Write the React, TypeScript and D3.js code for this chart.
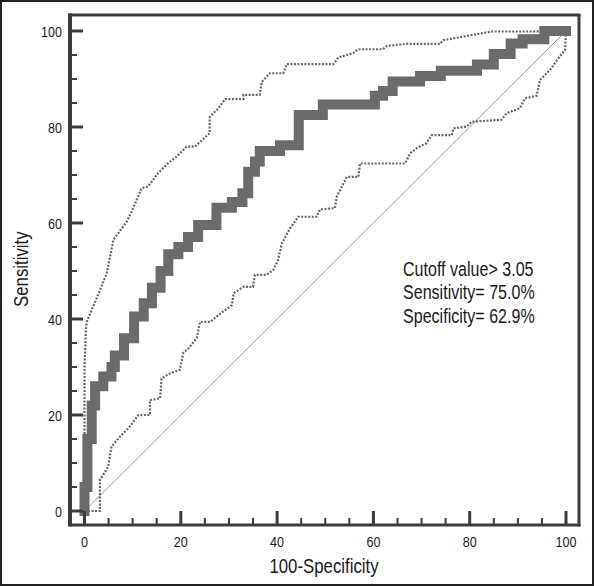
import React from "react";
import * as d3 from "d3";

// ROC curve (stepped) — 100-Specificity vs Sensitivity
const rocFpr = [0, 0, 0.6, 0.6, 1.5, 1.5, 2.2, 2.2, 3.9, 3.9, 5.6, 5.6, 6.3, 6.3, 8.2, 8.2, 10.3, 10.3, 12.3, 12.3, 14, 14, 15.8, 15.8, 17.4, 17.4, 19.5, 19.5, 21.5, 21.5, 23.6, 23.6, 27.4, 27.4, 30.6, 30.6, 32.8, 32.8, 34, 34, 35.4, 35.4, 36.4, 36.4, 40.6, 40.6, 44.5, 44.5, 49.5, 49.5, 60.3, 60.3, 62, 62, 64, 64, 69.7, 69.7, 74, 74, 81.5, 81.5, 85, 85, 88.5, 88.5, 91, 91, 95.5, 95.5, 100];
const rocTpr = [0, 5, 5, 15, 15, 22, 22, 26, 26, 28, 28, 30, 30, 32.4, 32.4, 36, 36, 40.5, 40.5, 43.3, 43.3, 46.5, 46.5, 50, 50, 53.5, 53.5, 55, 55, 57.1, 57.1, 59.6, 59.6, 63.2, 63.2, 64.4, 64.4, 66.2, 66.2, 70.7, 70.7, 72.8, 72.8, 75, 75, 76.2, 76.2, 82.5, 82.5, 84.7, 84.7, 86.5, 86.5, 87.5, 87.5, 89.5, 89.5, 90.6, 90.6, 91.7, 91.7, 93, 93, 95.2, 95.2, 97.4, 97.4, 98.3, 98.3, 100, 100];

// Upper 95% confidence bound
const upperFpr = [0, 0, 0.3, 0.5, 1.5, 3.2, 4.6, 5.6, 6, 8.8, 9.8, 11.9, 13.2, 15.3, 17.4, 19.1, 21.2, 22.9, 26, 26, 27.8, 29.2, 33, 33, 36.4, 36.8, 38.5, 41.3, 42, 51.7, 52.7, 55.8, 56.8, 62, 62.8, 66.6, 73.8, 74.5, 80.7, 84.6, 93, 100];
const upperTpr = [0, 30, 38, 39.5, 41.9, 46, 49.5, 54.4, 56.5, 60.3, 62.4, 67.3, 67.6, 70.4, 72.5, 73.8, 75.9, 75.9, 78.7, 82.1, 83.9, 85.8, 85.8, 86.7, 86.7, 89.4, 91.2, 91.2, 93.1, 93.1, 94.5, 95.4, 96.2, 96.2, 96.9, 97.3, 97.3, 98.1, 99.2, 99.9, 99.9, 100];

// Lower 95% confidence bound
const lowerFpr = [0, 3.2, 3.2, 4.5, 4.9, 5.6, 7.4, 9.4, 11.2, 13.6, 13.6, 15.7, 16, 17.8, 19.8, 20.5, 21.6, 23.3, 24, 26.1, 27.8, 30.6, 31, 33, 35, 35.4, 37.8, 39.2, 40.2, 41, 42.7, 44.4, 48.2, 48.9, 52, 52.4, 53.8, 54.5, 56.9, 57.2, 66.6, 67.6, 69, 71, 72.1, 76.3, 76.6, 79.4, 80.4, 86.6, 87.7, 90.4, 91.5, 93.9, 94.6, 96.7, 98.4, 99.8, 100, 100];
const lowerTpr = [0, 0, 6.5, 8.5, 9.2, 13.4, 15.5, 17.6, 20, 20, 23.1, 23.5, 27.6, 28.7, 29.4, 32.9, 33.9, 36, 39.4, 39.4, 40.8, 42.9, 45.4, 46.7, 46.7, 49.2, 49.2, 50.2, 52.3, 55.8, 58.9, 61.3, 61.3, 62.8, 63.1, 65.5, 68.3, 69.6, 69.6, 72.4, 72.4, 74.5, 75.6, 76.6, 78.3, 78.3, 79.7, 80.1, 81.1, 81.5, 82.9, 83.9, 86, 86.5, 89.8, 91.9, 94.3, 96, 99.5, 100];

const majorTicks = [0, 20, 40, 60, 80, 100];
const minorTicks = [5, 10, 15, 25, 30, 35, 45, 50, 55, 65, 70, 75, 85, 90, 95];
const xTitle = "100-Specificity";
const yTitle = "Sensitivity";
const notes = ["Cutoff value> 3.05", "Sensitivity= 75.0%", "Specificity= 62.9%"];

const FONT = "'Liberation Sans', Arial, sans-serif";

export default function App() {
  const W = 594, H = 586;
  const frame = { left: 70, right: 579, top: 15, bottom: 525 };
  const x = d3.scaleLinear().domain([0, 100]).range([84.5, 566]);
  const y = d3.scaleLinear().domain([0, 100]).range([511, 31]);
  const line = d3.line<[number, number]>().x((d) => x(d[0])).y((d) => y(d[1]));
  const zip = (a: number[], b: number[]) => a.map((v, i) => [v, b[i]] as [number, number]);
  const axisColor = "#3c3c3c";
  const textColor = "#1a1a1a";

  return (
    <svg width={W} height={H} style={{ position: "absolute", left: 0, top: 0, background: "#fff" }}>
      <rect x={0} y={0} width={W} height={H} fill="#fff" />
      <rect x={1} y={1} width={W - 2} height={H - 2} fill="none" stroke="#222" strokeWidth={2} />

      {/* diagonal reference */}
      <line x1={x(0)} y1={y(0)} x2={x(100)} y2={y(100)} stroke="#9a9a9a" strokeWidth={1} />

      {/* confidence bounds */}
      <path d={line(zip(upperFpr, upperTpr)) || ""} fill="none" stroke="#666" strokeWidth={2.2} strokeDasharray="2 1.5" />
      <path d={line(zip(lowerFpr, lowerTpr)) || ""} fill="none" stroke="#666" strokeWidth={2.2} strokeDasharray="2 1.5" />

      {/* ROC curve */}
      <path d={line(zip(rocFpr, rocTpr)) || ""} fill="none" stroke="#6b6b6b" strokeWidth={10} strokeLinecap="square" strokeLinejoin="miter" />

      {/* frame */}
      <line x1={frame.left - 2} y1={frame.top} x2={frame.right + 1.5} y2={frame.top} stroke={axisColor} strokeWidth={3} />
      <line x1={frame.right} y1={frame.top} x2={frame.right} y2={frame.bottom + 1.5} stroke={axisColor} strokeWidth={3} />
      <line x1={frame.left} y1={frame.top - 1.5} x2={frame.left} y2={frame.bottom + 1.5} stroke={axisColor} strokeWidth={4} />
      <line x1={frame.left} y1={frame.bottom} x2={frame.right + 1.5} y2={frame.bottom} stroke={axisColor} strokeWidth={3} />

      {/* y ticks */}
      {majorTicks.map((t) => (
        <line key={"ym" + t} x1={frame.left} x2={frame.left + 13} y1={y(t)} y2={y(t)} stroke={axisColor} strokeWidth={3} />
      ))}
      {minorTicks.map((t) => (
        <line key={"yn" + t} x1={frame.left} x2={frame.left + 7} y1={y(t)} y2={y(t)} stroke={axisColor} strokeWidth={2} />
      ))}
      {/* x ticks */}
      {majorTicks.map((t) => (
        <line key={"xm" + t} x1={x(t)} x2={x(t)} y1={frame.bottom} y2={frame.bottom - 14} stroke={axisColor} strokeWidth={3} />
      ))}
      {minorTicks.map((t) => (
        <line key={"xn" + t} x1={x(t)} x2={x(t)} y1={frame.bottom} y2={frame.bottom - 7} stroke={axisColor} strokeWidth={2} />
      ))}

      {/* tick labels */}
      {majorTicks.map((t) => (
        <text key={"yl" + t} transform={`translate(62,${y(t) + 5.5}) scale(0.81,1)`} textAnchor="end" fontFamily={FONT} fontSize={15.5} fill={textColor}>
          {t}
        </text>
      ))}
      {majorTicks.map((t) => (
        <text key={"xl" + t} transform={`translate(${x(t)},546.5) scale(0.81,1)`} textAnchor="middle" fontFamily={FONT} fontSize={15.5} fill={textColor}>
          {t}
        </text>
      ))}

      {/* axis titles */}
      <text transform="translate(324,572.5) scale(0.84,1)" textAnchor="middle" fontFamily={FONT} fontSize={20} fill={textColor}>
        {xTitle}
      </text>
      <text transform="translate(27.8,269.2) rotate(-90) scale(0.84,1)" textAnchor="middle" fontFamily={FONT} fontSize={20} fill={textColor}>
        {yTitle}
      </text>

      {/* annotation */}
      {notes.map((n, i) => (
        <text key={n} transform={`translate(403,${275.5 + i * 23.5}) scale(0.824,1)`} fontFamily={FONT} fontSize={19.5} fill={textColor}>
          {n}
        </text>
      ))}
    </svg>
  );
}
